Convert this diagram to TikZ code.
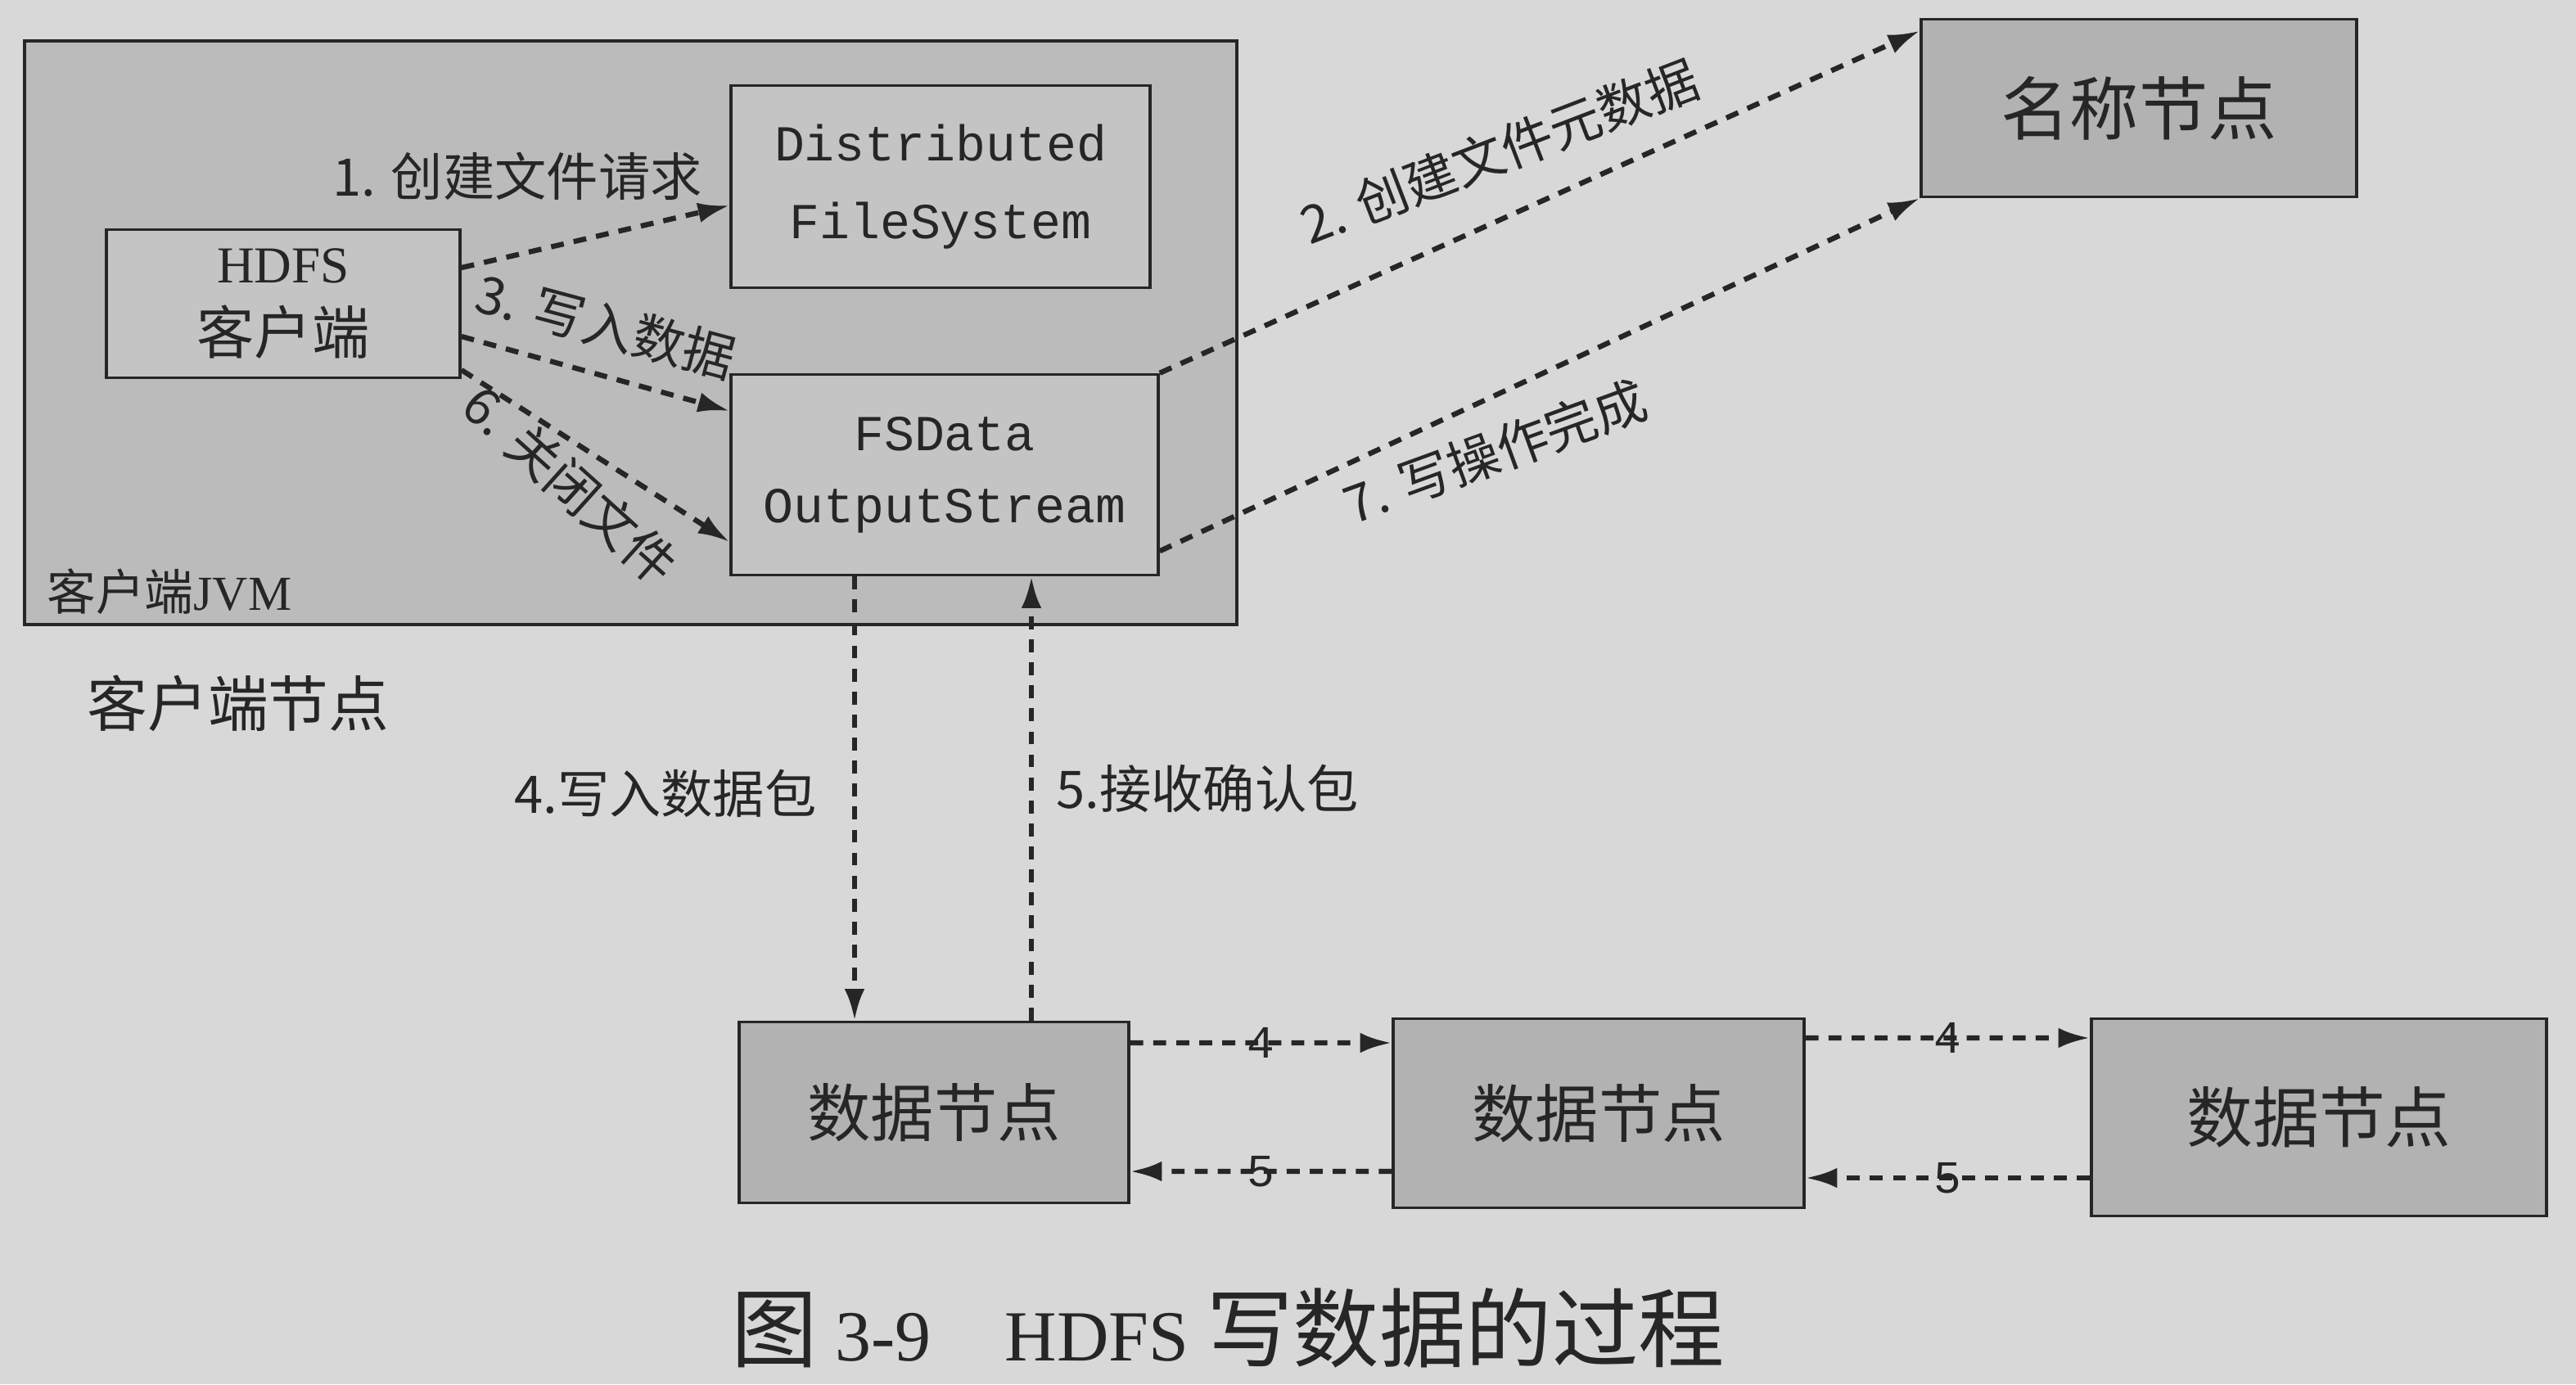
\documentclass[tikz,border=0pt]{standalone}
\usepackage{fontspec}
\setmainfont{Liberation Serif}
\setmonofont{Liberation Mono}
\newfontfamily\cjk{Noto Sans CJK SC}
\usepackage{tikz}
\usetikzlibrary{arrows.meta}

\definecolor{paper}{HTML}{D8D8D8}
\definecolor{jvmgray}{HTML}{BBBBBB}
\definecolor{boxgray}{HTML}{C4C4C4}
\definecolor{nodegray}{HTML}{B2B2B2}
\definecolor{ink}{HTML}{262626}

\begin{document}
\begin{tikzpicture}[
        >={Latex[length=11pt,width=7pt]},
        box/.style={draw=ink, line width=1pt, fill=boxgray, inner sep=0pt, align=center, text=ink},
        flow/.style={->, draw=ink, line width=1.8pt, dash pattern=on 4.5pt off 3.5pt},
        lbl/.style={text=ink, inner sep=0.5pt, font=\cjk\fontsize{18}{18}\selectfont},
        num/.style={text=ink, inner sep=0.5pt, font=\ttfamily\fontsize{16}{16}\selectfont}
    ]
        \useasboundingbox (0,0) rectangle (31.47,-16.91);
        \fill[paper] (0,0) rectangle (31.47,-16.91);
        \node[box, fill=jvmgray, minimum width=14.81cm, minimum height=7.13cm] (jvm) at (7.705,-4.065) {};
        \node[box, minimum width=4.32cm, minimum height=1.81cm, font=\fontsize{20}{25}\selectfont] (client) at (3.46,-3.71) {{\fontsize{18}{25}\selectfont HDFS}\\{\cjk 客户端}};
        \node[box, minimum width=5.12cm, minimum height=2.47cm, font=\ttfamily\fontsize{17.5}{27}\selectfont] (dfs) at (11.49,-2.28) {Distributed\\FileSystem};
        \node[box, minimum width=5.22cm, minimum height=2.45cm, font=\ttfamily\fontsize{17.5}{25}\selectfont] (fsdos) at (11.54,-5.80) {FSData\\OutputStream};
        \node[box, fill=nodegray, minimum width=5.32cm, minimum height=2.17cm, font=\cjk\fontsize{24}{24}\selectfont] (namenode) at (26.13,-1.32) {名称节点};
        \node[box, fill=nodegray, minimum width=4.76cm, minimum height=2.21cm, font=\cjk\fontsize{22}{22}\selectfont] (dn1) at (11.41,-13.59) {数据节点};
        \node[box, fill=nodegray, minimum width=5.02cm, minimum height=2.31cm, font=\cjk\fontsize{22}{22}\selectfont] (dn2) at (19.53,-13.60) {数据节点};
        \node[box, fill=nodegray, minimum width=5.56cm, minimum height=2.41cm, font=\cjk\fontsize{23}{23}\selectfont] (dn3) at (28.33,-13.65) {数据节点};
        \node[anchor=west, text=ink, font=\fontsize{17}{17}\selectfont] (jvmname) at (0.45,-7.23) {{\cjk 客户端}JVM};
        \node[text=ink, font=\cjk\fontsize{21}{21}\selectfont] (clientnode) at (2.91,-8.59) {客户端节点};
        \draw[flow] ([yshift=0.44cm]client.east) -- ([yshift=-0.23cm]dfs.west);
        \draw[flow] ([yshift=-0.40cm]client.east) -- ([yshift=0.78cm]fsdos.west);
        \draw[flow] ([yshift=-0.81cm]client.east) -- ([yshift=-0.82cm]fsdos.west);
        \draw[flow] (fsdos.north east) -- ([yshift=-0.16cm]namenode.north west);
        \draw[flow] ([yshift=0.31cm]fsdos.south east) -- (namenode.south west);
        \coordinate (p4) at ([xshift=-1.10cm]fsdos.south);
        \coordinate (p5) at ([xshift=1.06cm]fsdos.south);
        \draw[flow] (p4) -- (p4 |- dn1.north);
        \draw[flow] (p5 |- dn1.north) -- (p5);
        \draw[flow] ([yshift=0.85cm]dn1.east) -- ([yshift=0.86cm]dn2.west) node[num, midway] {4};
        \draw[flow] ([yshift=-0.71cm]dn2.west) -- ([yshift=-0.72cm]dn1.east) node[num, midway] {5};
        \draw[flow] ([yshift=0.92cm]dn2.east) -- ([yshift=0.97cm]dn3.west) node[num, midway] {4};
        \draw[flow] ([yshift=-0.74cm]dn3.west) -- ([yshift=-0.79cm]dn2.east) node[num, midway] {5};
        \node[lbl] (l1) at (6.32,-2.15) {1. 创建文件请求};
        \node[lbl, rotate=-15] (l3) at (7.40,-3.98) {3. 写入数据};
        \node[lbl, rotate=-42] (l6) at (6.97,-5.92) {6. 关闭文件};
        \node[lbl, rotate=21] (l2) at (18.32,-1.85) {2. 创建文件元数据};
        \node[lbl, rotate=20] (l7) at (18.26,-5.52) {7. 写操作完成};
        \node[lbl] (l4) at (8.13,-9.69) {4.写入数据包};
        \node[lbl] (l5) at (14.75,-9.63) {5.接收确认包};
        \node[text=ink, inner sep=0pt, font=\fontsize{25}{25}\selectfont] (caption) at (15.0,-16.22) {{\cjk\fontsize{30}{30}\selectfont 图} 3-9\hspace{0.9cm}HDFS {\cjk\fontsize{30}{30}\selectfont 写数据的过程}};
    \end{tikzpicture}
\end{document}
